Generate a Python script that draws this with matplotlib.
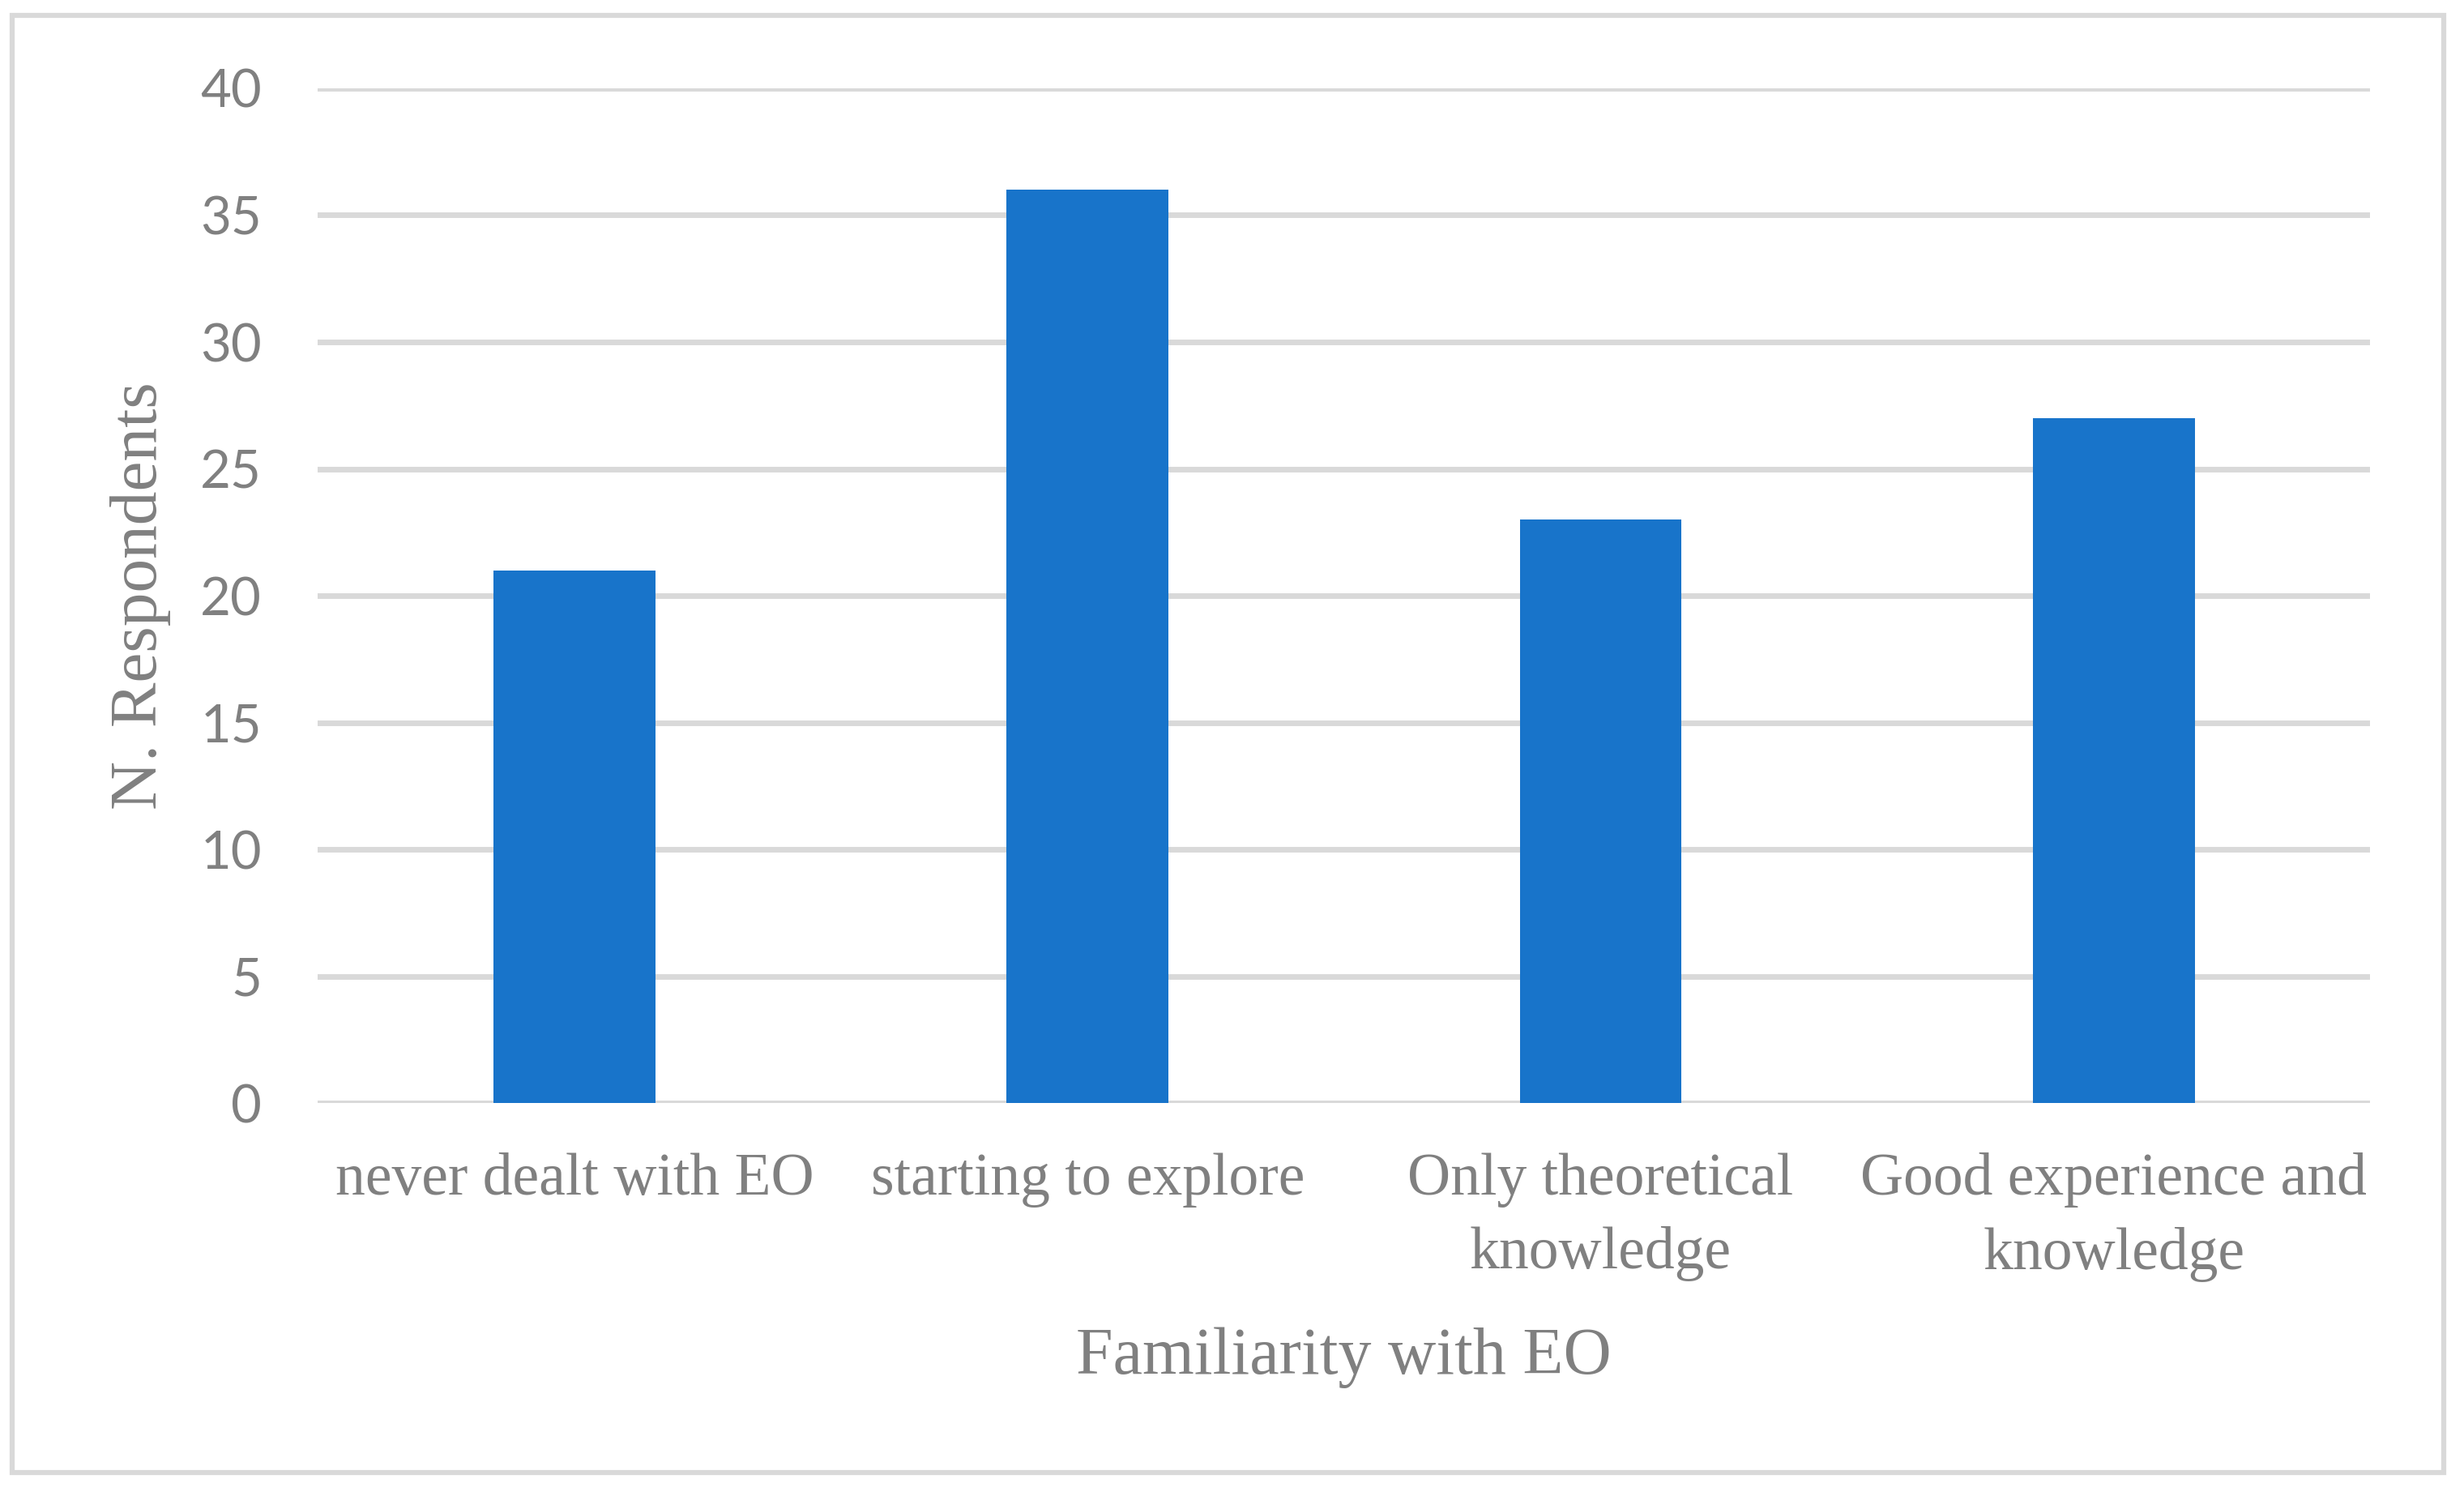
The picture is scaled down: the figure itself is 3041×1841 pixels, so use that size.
import numpy as np
import matplotlib.pyplot as plt
from matplotlib.patches import Rectangle

categories = ['never dealt with EO', 'starting to explore',
              'Only theoretical\nknowledge', 'Good experience and\nknowledge']
respondents = [21, 36, 23, 27]
yticks = [0, 5, 10, 15, 20, 25, 30, 35, 40]

grey = '#808080'
bar_color = '#1874CA'
grid_color = '#D9D9D9'

fig = plt.figure(figsize=(30.41, 18.41), dpi=100)
ax = fig.add_axes([0.129, 0.2607, 0.833, 0.6801])

x = np.arange(len(categories))
ax.bar(x, respondents, width=0.315, color=bar_color, zorder=3)

ax.set_xlim(-0.5, len(categories) - 0.5)
ax.set_ylim(0, 40)
ax.set_yticks(yticks)
ax.set_yticklabels([str(v) for v in yticks], family='Lato', fontsize=47, color=grey)
ax.set_xticks(x)
ax.set_xticklabels(categories, family='Liberation Serif', fontsize=53, color=grey,
                   linespacing=1.45)
ax.tick_params(axis='both', length=0)
ax.tick_params(axis='y', pad=50)
ax.tick_params(axis='x', pad=44)

ax.yaxis.grid(True, color=grid_color, linewidth=5, zorder=0)
ax.set_axisbelow(True)
for s in ax.spines.values():
    s.set_visible(False)

ax.set_xlabel('Familiarity with EO', family='Liberation Serif', fontsize=59,
              color=grey, labelpad=40)
ax.set_ylabel('N. Respondents', family='Liberation Serif', fontsize=60,
              color=grey, labelpad=26)

# outer chart border
fig.patches.append(Rectangle((15 / 3041, 1 - 1817 / 1841), 3001 / 3041, 1798 / 1841,
                             transform=fig.transFigure, fill=False,
                             edgecolor=grid_color, linewidth=4.5))

fig.savefig('out.png', dpi=100, facecolor='white')
